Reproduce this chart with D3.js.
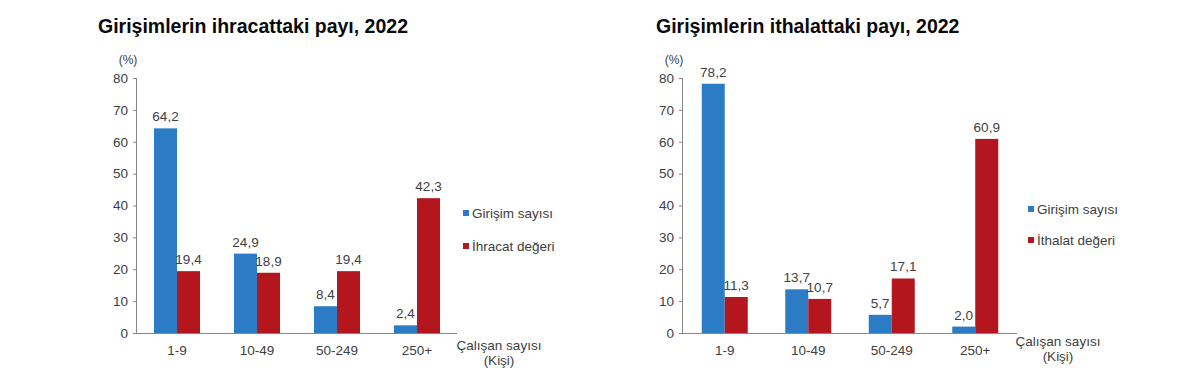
<!DOCTYPE html>
<html>
<head>
<meta charset="utf-8">
<script src="https://cdn.jsdelivr.net/npm/d3@7"></script>
<style>
  body { margin: 0; background: #fff; }
  svg text { font-family: "Liberation Sans", Arial, sans-serif; }
</style>
</head>
<body>
<script>
// data
const categories = ["1-9", "10-49", "50-249", "250+"];
const exportFirms = [64.2, 24.9, 8.4, 2.4];
const exportValue = [19.4, 18.9, 19.4, 42.3];
const importFirms = [78.2, 13.7, 5.7, 2.0];
const importValue = [11.3, 10.7, 17.1, 60.9];
const yTicks = [0, 10, 20, 30, 40, 50, 60, 70, 80];

const blue = "#2b7cc4", red = "#b3161c", textCol = "#404040";
const fs = 13.5;

const svg = d3.select("body").append("svg")
  .attr("width", 1200)
  .attr("height", 385);

drawChart({
  title: "Girişimlerin ihracattaki payı, 2022",
  titleX: 98,
  x0: 137, x1: 457,
  first: exportFirms, second: exportValue,
  legend: ["Girişim sayısı", "İhracat değeri"],
  legX: 463, legY: [213, 246],
  xTitleX: 499, xTitleY: 350
});

drawChart({
  title: "Girişimlerin ithalattaki payı, 2022",
  titleX: 656,
  x0: 683, x1: 1017,
  first: importFirms, second: importValue,
  legend: ["Girişim sayısı", "İthalat değeri"],
  legX: 1028, legY: [209, 240],
  xTitleX: 1058, xTitleY: 346
});

function drawChart(o) {
  const g = svg.append("g");

  const y = d3.scaleLinear().domain([0, 80]).range([333, 78]);
  const x = d3.scaleBand().domain(categories).range([o.x0, o.x1]);
  const barW = 23;

  g.append("text")
    .attr("x", o.titleX).attr("y", 33)
    .attr("font-size", 19.5).attr("font-weight", "bold")
    .attr("fill", "#0a0a0a")
    .text(o.title);

  g.append("text")
    .attr("x", o.x0 - 9).attr("y", 64)
    .attr("text-anchor", "middle")
    .attr("font-size", 12).attr("fill", textCol)
    .text("(%)");

  // y axis
  const yAxis = g.append("g")
    .attr("transform", `translate(${o.x0},0)`)
    .call(d3.axisLeft(y).tickValues(yTicks).tickSize(4).tickPadding(5).tickFormat(d3.format("d")));
  yAxis.select(".domain").attr("stroke", "#888").attr("d", `M-0.5,${y(80)}V${y(0)}`);
  yAxis.selectAll(".tick line").attr("stroke", "#888");
  yAxis.selectAll(".tick text").attr("font-size", fs).attr("fill", textCol)
    .attr("font-family", "Liberation Sans, Arial, sans-serif");

  // x axis
  const xAxis = g.append("g")
    .attr("transform", `translate(0,${y(0)})`)
    .call(d3.axisBottom(x).tickSize(0).tickPadding(12));
  xAxis.select(".domain").attr("stroke", "#888").attr("d", `M${o.x0},0.5H${o.x1}`);
  xAxis.selectAll(".tick text").attr("font-size", fs).attr("fill", textCol)
    .attr("font-family", "Liberation Sans, Arial, sans-serif");

  const series = [
    { vals: o.first, color: blue, off: -barW },
    { vals: o.second, color: red, off: 0 }
  ];

  series.forEach(s => {
    const mid = d => x(d) + x.bandwidth() / 2;
    g.selectAll(null).data(categories).enter().append("rect")
      .attr("x", d => mid(d) + s.off)
      .attr("y", (d, i) => y(s.vals[i]))
      .attr("width", barW)
      .attr("height", (d, i) => y(0) - y(s.vals[i]))
      .attr("fill", s.color);

    g.selectAll(null).data(categories).enter().append("text")
      .attr("x", d => mid(d) + s.off + barW / 2)
      .attr("y", (d, i) => y(s.vals[i]) - 7)
      .attr("text-anchor", "middle")
      .attr("font-size", fs).attr("fill", textCol)
      .text((d, i) => d3.format(".1f")(s.vals[i]).replace(".", ","));
  });

  // legend
  [blue, red].forEach((c, i) => {
    g.append("rect")
      .attr("x", o.legX).attr("y", o.legY[i] - 3)
      .attr("width", 6).attr("height", 6)
      .attr("fill", c);
    g.append("text")
      .attr("x", o.legX + 9).attr("y", o.legY[i] + 5)
      .attr("font-size", fs).attr("fill", textCol)
      .text(o.legend[i]);
  });

  g.append("text")
    .attr("x", o.xTitleX).attr("y", o.xTitleY)
    .attr("text-anchor", "middle")
    .attr("font-size", fs).attr("fill", textCol)
    .text("Çalışan sayısı");
  g.append("text")
    .attr("x", o.xTitleX).attr("y", o.xTitleY + 15)
    .attr("text-anchor", "middle")
    .attr("font-size", fs).attr("fill", textCol)
    .text("(Kişi)");
}
</script>
</body>
</html>
